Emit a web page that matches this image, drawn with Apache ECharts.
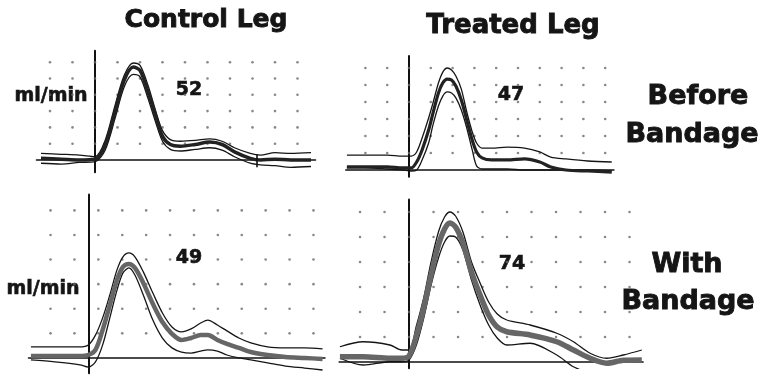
<!DOCTYPE html>
<html><head><meta charset="utf-8">
<script src="https://cdn.jsdelivr.net/npm/echarts@6/dist/echarts.min.js"></script>
<style>html,body{margin:0;padding:0;background:#fff}#c{width:763px;height:375px}</style>
</head><body><div id="c"></div>
<script>
// ---- Panel 1: Control Leg, Before Bandage ----
const x1 = [-2.4, -1.5, -0.7, 0, 0.45, 0.9, 1.3, 1.7, 2.0, 2.35, 2.7, 3.0, 3.35, 3.8, 4.45, 5.1, 5.65, 6.2, 6.9, 7.35, 8.0, 8.7, 9.6];
const upper1 = [0.4, 0.35, 0.3, 0.2, 1.2, 3.4, 5.2, 5.95, 5.8, 4.6, 3.0, 1.8, 1.25, 1.15, 1.2, 1.3, 1.15, 0.75, 0.4, 0.3, 0.45, 0.4, 0.45];
const mean1  = [0.1, 0.05, 0, 0.05, 0.9, 3.0, 4.9, 5.7, 5.5, 4.2, 2.7, 1.45, 0.95, 0.85, 0.95, 1.1, 0.95, 0.5, 0.1, 0, 0.05, 0, 0];
const lower1 = [-0.2, -0.25, -0.15, -0.1, 0.6, 2.6, 4.5, 5.25, 5.1, 3.8, 2.3, 1.15, 0.65, 0.55, 0.65, 0.75, 0.6, 0.2, -0.2, -0.3, -0.35, -0.45, -0.4];

// ---- Panel 2: Treated Leg, Before Bandage ----
const x2 = [-2.85, -2.0, -1.0, -0.3, 0.1, 0.35, 0.6, 0.9, 1.1, 1.35, 1.55, 1.75, 1.95, 2.15, 2.4, 2.65, 2.9, 3.1, 3.35, 3.8, 4.5, 5.3, 6.0, 6.5, 7.2, 8.2, 9.3];
const upper2 = [0.88, 0.88, 0.88, 0.82, 0.82, 1.06, 1.88, 3.06, 3.94, 5.12, 5.76, 6.0, 5.88, 5.53, 4.76, 3.41, 2.24, 1.59, 1.29, 1.29, 1.35, 1.29, 1.06, 0.76, 0.65, 0.53, 0.47];
const mean2  = [0.18, 0.18, 0.18, 0.12, 0.12, 0.47, 1.18, 2.35, 3.35, 4.53, 5.12, 5.35, 5.29, 4.94, 4.12, 2.94, 1.76, 1.06, 0.71, 0.59, 0.59, 0.65, 0.47, 0.18, 0, -0.06, -0.12];
const lower2 = [0.12, 0.12, 0.06, 0, -0.06, 0, 0.59, 1.59, 2.65, 3.76, 4.35, 4.59, 4.53, 4.24, 3.53, 2.47, 1.18, 0.24, 0.06, 0.06, 0.06, 0, 0, 0, 0, 0, -0.06];

// ---- Panel 3: Control Leg, With Bandage ----
const x3 = [-2.4, -1.4, -0.35, 0, 0.3, 0.6, 0.9, 1.2, 1.45, 1.7, 1.95, 2.3, 2.7, 3.1, 3.5, 3.9, 4.3, 4.7, 5.0, 5.4, 5.8, 6.3, 6.8, 7.5, 8.25, 9.05, 9.8];
const upper3 = [0.45, 0.45, 0.45, 0.53, 0.93, 1.63, 2.56, 3.58, 4.11, 4.27, 4.11, 3.5, 2.64, 1.83, 1.26, 1.06, 1.18, 1.42, 1.54, 1.34, 1.1, 0.81, 0.61, 0.45, 0.41, 0.41, 0.37];
const mean3  = [0.08, 0.08, 0.08, 0.12, 0.33, 1.14, 2.15, 3.17, 3.7, 3.82, 3.66, 3.05, 2.2, 1.46, 0.98, 0.73, 0.81, 0.93, 0.93, 0.73, 0.57, 0.41, 0.24, 0.12, 0.04, 0, -0.04];
const lower3 = [-0.08, -0.16, -0.28, -0.37, -0.16, 0.53, 1.63, 2.76, 3.46, 3.66, 3.37, 2.56, 1.54, 0.81, 0.41, 0.24, 0.2, 0.28, 0.33, 0.28, 0.12, 0, -0.08, -0.2, -0.33, -0.41, -0.49];

// ---- Panel 4: Treated Leg, With Bandage ----
const x4 = [-2.82, -1.87, -0.78, -0.3, 0, 0.3, 0.6, 0.9, 1.2, 1.45, 1.67, 1.9, 2.2, 2.55, 2.9, 3.25, 3.6, 3.99, 4.94, 6.03, 6.71, 7.39, 8.07, 8.75, 9.5];
const upper4 = [0.61, 0.81, 0.68, 0.48, 0.48, 1.44, 2.56, 4.0, 5.2, 5.8, 6.0, 5.84, 5.2, 4.0, 3.16, 2.4, 1.92, 1.68, 1.48, 1.15, 0.81, 0.35, 0.15, 0.28, 0.48];
const mean4  = [0.21, 0.21, 0.15, 0.15, 0.24, 1.04, 2.16, 3.48, 4.68, 5.32, 5.56, 5.4, 4.76, 3.6, 2.68, 1.88, 1.4, 1.21, 1.08, 0.81, 0.48, 0.15, -0.05, 0.07, 0.08];
const lower4 = [0.15, -0.12, 0.01, 0.01, 0.08, 0.68, 1.76, 3.08, 4.16, 4.8, 5.04, 5.0, 4.48, 3.28, 2.28, 1.48, 0.96, 0.68, 0.75, 0.28, -0.19, -0.45, null, null, null];

// ---- Flow values, titles, labels ----
const flowValues = ['52', '47', '49', '74'];
const columnTitles = ['Control Leg', 'Treated Leg'];
const rowTitles = [['Before', 'Bandage'], ['With', 'Bandage']];
const unitLabel = 'ml/min';

// ---- Dotted reference grid (data units) ----
const dotRows = [1, 2, 3, 4, 5, 6];
const dotColsA = [-2, -1, 0, 1, 2, 3, 4, 5, 6, 7, 8, 9];
const dotColsB = [-1.58, -0.58, 0.42, 1.42, 2.42, 3.42, 4.42, 5.42, 6.42, 7.42, 8.42, 9.42];
const baseTicks = [7.2, null, null, 8.12];

const panels = [
  {x: x1, u: upper1, m: mean1, l: lower1, cols: dotColsA, meanColor: '#222', meanW: 3.5,
   g: {left: 36.5, top: 50.8, width: 279, height: 121.4}, xr: [-2.6, 9.8], yr: [-0.75, 6.7]},
  {x: x2, u: upper2, m: mean2, l: lower2, cols: dotColsA, meanColor: '#222', meanW: 3.2,
   g: {left: 345.8, top: 56.1, width: 268.1, height: 120.7}, xr: [-2.9, 9.4], yr: [-0.4, 6.7]},
  {x: x3, u: upper3, m: mean3, l: lower3, cols: dotColsB, meanColor: '#666', meanW: 4.5,
   g: {left: 28.55, top: 194.4, width: 296.4, height: 178.8}, xr: [-2.5, 9.9], yr: [-0.62, 6.65]},
  {x: x4, u: upper4, m: mean4, l: lower4, cols: dotColsA, meanColor: '#666', meanW: 5.5,
   g: {left: 339.2, top: 199.5, width: 303.8, height: 168.75}, xr: [-2.85, 9.55], yr: [-0.25, 6.5]}
];

function zip(xs, ys) {
  const out = [];
  for (let i = 0; i < xs.length; i++) if (ys[i] !== null) out.push([xs[i], ys[i]]);
  return out;
}

const grid = [], xAxis = [], yAxis = [], series = [];
panels.forEach((p, i) => {
  grid.push(Object.assign({containLabel: false}, p.g));
  xAxis.push({type: 'value', gridIndex: i, min: p.xr[0], max: p.xr[1],
    axisLine: {show: true, onZero: true, lineStyle: {color: '#111', width: 1.6}},
    axisTick: {show: false}, axisLabel: {show: false}, splitLine: {show: false}});
  yAxis.push({type: 'value', gridIndex: i, min: p.yr[0], max: p.yr[1],
    axisLine: {show: true, onZero: true, lineStyle: {color: '#111', width: 2}},
    axisTick: {show: false}, axisLabel: {show: false}, splitLine: {show: false}});
  const dots = [];
  p.cols.forEach(c => dotRows.forEach(r => dots.push([c, r])));
  series.push({type: 'scatter', xAxisIndex: i, yAxisIndex: i, data: dots, symbolSize: 2.6,
    itemStyle: {color: '#6a6a6a'}, silent: true, z: 1});
  const lineBase = {type: 'line', xAxisIndex: i, yAxisIndex: i, symbol: 'none', smooth: 0.3, silent: true};
  series.push(Object.assign({}, lineBase, {data: zip(p.x, p.u), lineStyle: {color: '#151515', width: 1.3}, z: 3}));
  series.push(Object.assign({}, lineBase, {data: zip(p.x, p.l), lineStyle: {color: '#151515', width: 1.3}, z: 3}));
  const meanSeries = Object.assign({}, lineBase, {data: zip(p.x, p.m), lineStyle: {color: p.meanColor, width: p.meanW}, z: 4});
  if (baseTicks[i] !== null) {
    meanSeries.markLine = {silent: true, symbol: 'none', label: {show: false},
      lineStyle: {color: '#111', width: 1.6, type: 'solid'},
      data: [[{coord: [baseTicks[i], -0.45]}, {coord: [baseTicks[i], 0.35]}]]};
  }
  series.push(meanSeries);
});

const F = 'DejaVu Sans';
const txt = (t, x, y, size, sw) => ({type: 'text', x: x, y: y, silent: true,
  style: {text: t, fill: '#151515', stroke: '#151515', lineWidth: sw, font: 'bold ' + size + 'px "' + F + '"', textAlign: 'center', textVerticalAlign: 'middle'}});

const graphic = [
  txt(columnTitles[0], 206, 20, 25, 0.9),
  txt(columnTitles[1], 513, 26, 26, 0.9),
  txt(rowTitles[0][0], 698, 97, 27, 0.9),
  txt(rowTitles[0][1], 692, 135, 27, 0.9),
  txt(rowTitles[1][0], 687, 265, 27, 0.9),
  txt(rowTitles[1][1], 688, 302, 27, 0.9),
  txt(unitLabel, 51, 96, 19, 0.6),
  txt(unitLabel, 43, 289, 19, 0.6),
  txt(flowValues[0], 189, 90, 19, 0.6),
  txt(flowValues[1], 511, 95, 19, 0.6),
  txt(flowValues[2], 189, 258, 19, 0.6),
  txt(flowValues[3], 512, 264, 19, 0.6)
];

const chart = echarts.init(document.getElementById('c'), null, {renderer: 'canvas'});
chart.setOption({animation: false, backgroundColor: '#fff', grid, xAxis, yAxis, series, graphic});
</script></body></html>
